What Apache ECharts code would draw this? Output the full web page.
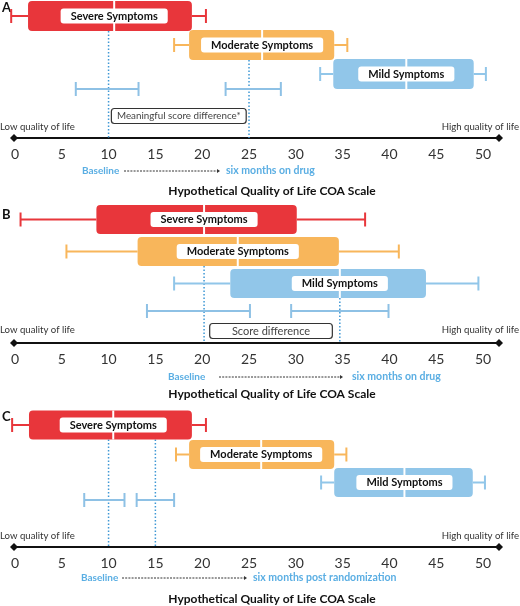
<!DOCTYPE html>
<html><head><meta charset="utf-8">
<script src="https://cdn.jsdelivr.net/npm/echarts@6/dist/echarts.min.js"></script>
<style>html,body{margin:0;padding:0;background:#fff}#c{width:520px;height:606px}</style>
</head><body><div id="c"></div>
<script>
// ---------- data ----------
const ticks = [0, 5, 10, 15, 20, 25, 30, 35, 40, 45, 50];
const groups = ['Severe Symptoms', 'Moderate Symptoms', 'Mild Symptoms'];
// [lower whisker, Q1, median, Q3, upper whisker]
const boxesA = [[-0.4, 1.4, 10.6, 18.9, 20.4], [17.0, 18.6, 26.4, 34.1, 35.5], [32.6, 34.0, 41.8, 49.0, 50.3]];
const boxesB = [[0.6, 8.7, 20.2, 30.1, 37.4], [5.5, 13.1, 23.8, 34.6, 41.0], [17.0, 23.0, 34.7, 43.9, 49.5]];
const boxesC = [[-0.3, 1.5, 10.5, 18.9, 20.4], [17.2, 18.6, 26.3, 34.1, 35.4], [32.7, 34.1, 41.6, 48.9, 50.2]];
// confidence interval bars [low, high]
const ciA = [[6.5, 13.2], [22.5, 28.4]];
const ciB = [[14.1, 25.1], [29.5, 39.9]];
const ciC = [[7.4, 11.7], [13.0, 17.0]];
// dotted reference lines (baseline, six months)
const refA = [10, 25];
const refB = [20.2, 34.7];
const refC = [10, 15];
// difference notes
const noteTextA = 'Meaningful score difference*';
const noteRangeA = [10.3, 24.7];
const noteTextB = 'Score difference';
const noteRangeB = [20.8, 33.9];
// texts
const panelLetters = ['A', 'B', 'C'];
const lowText = 'Low quality of life';
const highText = 'High quality of life';
const startText = 'Baseline';
const endTexts = ['six months on drug', 'six months on drug', 'six months post randomization'];
const titleText = 'Hypothetical Quality of Life COA Scale';

// ---------- layout (pixels) ----------
const P = [
  { top: 0, h: 138, rows: [16, 45, 74], ci: 89, note: 116, boxH: 30, refFrom: [0, 1], noteFont: 9.8,
    letterY: 8, lowY: 127, baseY: 171, baseX: 82, arrow: [124, 220], endX: 226, titleY: 191 },
  { top: 200, h: 143, rows: [19.5, 51.5, 83.5], ci: 111, note: 131, boxH: 29, refFrom: [1, 2], noteFont: 11,
    letterY: 15, lowY: 130, baseY: 177, baseX: 168, arrow: [219, 343], endX: 352, titleY: 194 },
  { top: 400, h: 147, rows: [25, 54.5, 82.5], ci: 100, note: null, boxH: 29, refFrom: [0, 0], noteFont: 10,
    letterY: 17, lowY: 136, baseY: 178, baseX: 81, arrow: [122, 247], endX: 253, titleY: 199 }
];
const boxColors = ['#e8363b', '#f8b65b', '#91c6e9'];
const ciColor = '#8ec1e5';
const refColor = '#3f98d5';
const blueText = '#5aaee3';
const FONT = 'Lato, "Open Sans", sans-serif';

const panels = [
  { boxes: boxesA, ci: ciA, ref: refA, noteText: noteTextA, noteRange: noteRangeA },
  { boxes: boxesB, ci: ciB, ref: refB, noteText: noteTextB, noteRange: noteRangeB },
  { boxes: boxesC, ci: ciC, ref: refC, noteText: null, noteRange: null }
];

const grids = [], xAxes = [], yAxes = [], series = [], graphics = [];

panels.forEach((pd, k) => {
  const L = P[k];
  grids.push({ left: 14, width: 485, top: L.top, height: L.h });
  xAxes.push({
    gridIndex: k, type: 'value', min: -0.1, max: 51.7,
    axisLine: { show: true, onZero: false, lineStyle: { color: '#111', width: 2.2 },
      symbol: ['diamond', 'diamond'], symbolSize: [8, 8] },
    axisTick: { show: false }, splitLine: { show: false },
    axisLabel: { customValues: ticks, color: '#333', fontSize: 14, fontFamily: FONT, margin: 9 }
  });
  yAxes.push({ gridIndex: k, type: 'value', min: 0, max: L.h, inverse: true, show: false });

  // dotted reference lines
  series.push({
    type: 'custom', xAxisIndex: k, yAxisIndex: k, z: 1, silent: true,
    data: pd.ref.map((v, i) => [v, L.rows[L.refFrom[i]] + L.boxH / 2, L.h]),
    encode: { x: 0, y: [1, 2] },
    renderItem: (params, api) => {
      const a = api.coord([api.value(0), api.value(1)]);
      const b = api.coord([api.value(0), api.value(2)]);
      return { type: 'line', shape: { x1: a[0], y1: a[1], x2: b[0], y2: b[1] },
        style: { stroke: refColor, lineWidth: 1.5, lineDash: [1.5, 2] } };
    }
  });
  // CI bars
  series.push({
    type: 'custom', xAxisIndex: k, yAxisIndex: k, z: 2, silent: true,
    data: pd.ci.map(c => [c[0], c[1], L.ci]),
    encode: { x: [0, 1], y: 2 },
    renderItem: (params, api) => {
      const a = api.coord([api.value(0), api.value(2)]);
      const b = api.coord([api.value(1), api.value(2)]);
      const cap = 7;
      const st = { stroke: ciColor, lineWidth: 2 };
      return { type: 'group', children: [
        { type: 'line', shape: { x1: a[0], y1: a[1], x2: b[0], y2: b[1] }, style: st },
        { type: 'line', shape: { x1: a[0], y1: a[1] - cap, x2: a[0], y2: a[1] + cap }, style: st },
        { type: 'line', shape: { x1: b[0], y1: b[1] - cap, x2: b[0], y2: b[1] + cap }, style: st }
      ] };
    }
  });
  // boxes
  series.push({
    type: 'custom', xAxisIndex: k, yAxisIndex: k, z: 3, silent: true,
    data: pd.boxes.map((b, i) => b.concat([L.rows[i]])),
    encode: { x: [0, 1, 2, 3, 4], y: 5 },
    renderItem: (params, api) => {
      const i = params.dataIndex;
      const y = api.value(5);
      const p = v => api.coord([v, y]);
      const lo = p(api.value(0)), q1 = p(api.value(1)), md = p(api.value(2)), q3 = p(api.value(3)), hi = p(api.value(4));
      const cy = lo[1], h = L.boxH, cap = 7, col = boxColors[i];
      const st = { stroke: col, lineWidth: 2 };
      return { type: 'group', children: [
        { type: 'line', shape: { x1: lo[0], y1: cy, x2: q1[0], y2: cy }, style: st },
        { type: 'line', shape: { x1: q3[0], y1: cy, x2: hi[0], y2: cy }, style: st },
        { type: 'line', shape: { x1: lo[0], y1: cy - cap, x2: lo[0], y2: cy + cap }, style: st },
        { type: 'line', shape: { x1: hi[0], y1: cy - cap, x2: hi[0], y2: cy + cap }, style: st },
        { type: 'rect', shape: { x: q1[0], y: cy - h / 2, width: q3[0] - q1[0], height: h, r: 4 }, style: { fill: col } },
        { type: 'line', shape: { x1: md[0], y1: cy - h / 2, x2: md[0], y2: cy + h / 2 }, style: { stroke: '#fff', lineWidth: 2 } },
        { type: 'text', x: md[0], y: cy, style: { text: groups[i], align: 'center', verticalAlign: 'middle',
            font: 'bold 11px ' + FONT, fill: '#111', backgroundColor: '#fff', padding: [2, 10, 2, 10], borderRadius: 3 } }
      ] };
    }
  });
  // note box
  if (pd.noteText) {
    series.push({
      type: 'custom', xAxisIndex: k, yAxisIndex: k, z: 4, silent: true,
      data: [[pd.noteRange[0], pd.noteRange[1], L.note]],
      encode: { x: [0, 1], y: 2 },
      renderItem: (params, api) => {
        const a = api.coord([api.value(0), api.value(2)]);
        const b = api.coord([api.value(1), api.value(2)]);
        const h = 15;
        return { type: 'group', children: [
          { type: 'rect', shape: { x: a[0], y: a[1] - h / 2, width: b[0] - a[0], height: h, r: 3 },
            style: { fill: '#fff', stroke: '#333', lineWidth: 1.2 } },
          { type: 'text', x: (a[0] + b[0]) / 2, y: a[1], style: { text: pd.noteText, align: 'center', verticalAlign: 'middle',
              font: L.noteFont + 'px ' + FONT, fill: '#444' } }
        ] };
      }
    });
  }

  // annotations
  const t = L.top;
  graphics.push(
    { type: 'text', x: 2, y: t + L.letterY, style: { text: panelLetters[k], font: 'bold 13px ' + FONT, fill: '#111', verticalAlign: 'middle' } },
    { type: 'text', x: 0, y: t + L.lowY, style: { text: lowText, font: '9.6px ' + FONT, fill: '#333', verticalAlign: 'middle' } },
    { type: 'text', x: 519, y: t + L.lowY, style: { text: highText, font: '9.6px ' + FONT, fill: '#333', align: 'right', verticalAlign: 'middle' } },
    { type: 'text', x: L.baseX, y: t + L.baseY, style: { text: startText, font: 'bold 10px ' + FONT, fill: blueText, verticalAlign: 'middle' } },
    { type: 'line', shape: { x1: L.arrow[0], y1: t + L.baseY, x2: L.arrow[1] - 3, y2: t + L.baseY },
      style: { stroke: '#333', lineWidth: 1, lineDash: [2, 1.2] } },
    { type: 'polygon', shape: { points: [[L.arrow[1] - 3, t + L.baseY - 2], [L.arrow[1], t + L.baseY], [L.arrow[1] - 3, t + L.baseY + 2]] },
      style: { fill: '#333' } },
    { type: 'text', x: L.endX, y: t + L.baseY, style: { text: endTexts[k], font: 'bold 10.5px ' + FONT, fill: blueText, verticalAlign: 'middle' } },
    { type: 'text', x: 272, y: t + L.titleY, style: { text: titleText, font: 'bold 12px ' + FONT, fill: '#111', align: 'center', verticalAlign: 'middle' } }
  );
});

const chart = echarts.init(document.getElementById('c'), null, { renderer: 'canvas' });
chart.setOption({
  animation: false,
  backgroundColor: '#fff',
  grid: grids, xAxis: xAxes, yAxis: yAxes, series: series,
  graphic: graphics
});
</script></body></html>
